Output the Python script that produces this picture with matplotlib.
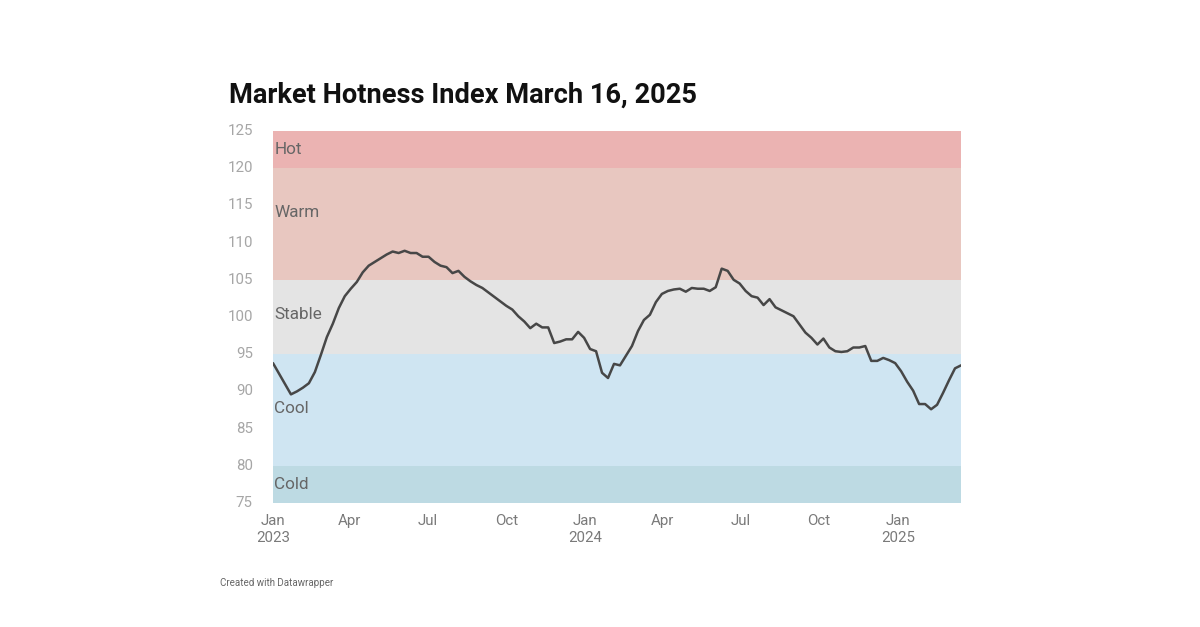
import matplotlib
matplotlib.use("Agg")
import matplotlib.pyplot as plt
import pandas as pd

# ---- data ----
start_date = "2023-01-01"
end_date = "2025-03-16"
index_values = [
    93.8, 92.4, 91.0, 89.6, 90.0, 90.5, 91.1, 92.6, 94.9, 97.3,
    99.1, 101.2, 102.8, 103.8, 104.7, 106.0, 106.9, 107.4, 107.9, 108.4,
    108.8, 108.6, 108.9, 108.6, 108.6, 108.1, 108.1, 107.4, 106.9, 106.7,
    105.9, 106.2, 105.4, 104.8, 104.3, 103.9, 103.3, 102.7, 102.1, 101.5,
    101.0, 100.1, 99.4, 98.5, 99.1, 98.6, 98.6, 96.5, 96.7, 97.0,
    97.0, 98.0, 97.2, 95.7, 95.4, 92.5, 91.8, 93.7, 93.5, 94.8,
    96.1, 98.1, 99.6, 100.3, 102.0, 103.1, 103.5, 103.7, 103.8, 103.4,
    103.9, 103.8, 103.8, 103.5, 104.0, 106.5, 106.2, 105.0, 104.5, 103.5,
    102.8, 102.6, 101.6, 102.4, 101.3, 100.9, 100.5, 100.1, 99.0, 97.9,
    97.2, 96.3, 97.1, 95.9, 95.4, 95.3, 95.4, 95.9, 95.9, 96.1,
    94.1, 94.1, 94.5, 94.2, 93.8, 92.7, 91.3, 90.1, 88.3, 88.3,
    87.6, 88.2, 89.8, 91.5, 93.1, 93.5,
]
band_names = ["Cold", "Cool", "Stable", "Warm", "Hot"]
band_low = [75, 80, 95, 105, 120]
band_high = [80, 95, 105, 120, 125]
band_label_y = [77.5, 87.7, 100.3, 114.0, 122.5]
band_colors = ["#bddae3", "#cfe5f2", "#e4e4e4", "#e8c7c0", "#ebb3b2"]
y_ticks = [75, 80, 85, 90, 95, 100, 105, 110, 115, 120, 125]
x_tick_dates = ["2023-01-01", "2023-04-01", "2023-07-01", "2023-10-01",
                "2024-01-01", "2024-04-01", "2024-07-01", "2024-10-01",
                "2025-01-01"]
x_tick_labels = ["Jan\n2023", "Apr", "Jul", "Oct", "Jan\n2024", "Apr", "Jul",
                 "Oct", "Jan\n2025"]
title = "Market Hotness Index March 16, 2025"
footer = "Created with Datawrapper"

dates = pd.date_range(start_date, end_date, freq="7D")

plt.rcParams["font.family"] = ["Roboto", "DejaVu Sans"]

fig = plt.figure(figsize=(12, 6.27), dpi=100)
ax = fig.add_axes([273 / 1200, 1 - 503 / 627, (961 - 273) / 1200, (503 - 131) / 627])

x0 = pd.Timestamp(start_date)
x1 = pd.Timestamp(end_date)
for name, lo, hi, ly, c in zip(band_names, band_low, band_high, band_label_y, band_colors):
    ax.axhspan(lo, hi, color=c, lw=0, zorder=0)
    ax.text(0.002, ly, name, transform=ax.get_yaxis_transform(), ha="left",
            va="center", fontsize=12.3, color="#666666", zorder=2)

ax.plot(dates, index_values, color="#474747", lw=1.8, zorder=3,
        solid_joinstyle="round", solid_capstyle="round")

ax.set_xlim(x0, x1)
ax.set_ylim(75, 125)
ax.set_yticks(y_ticks)
ax.set_yticklabels([str(v) for v in y_ticks])
ax.set_xticks(pd.to_datetime(x_tick_dates))
ax.set_xticklabels(x_tick_labels, linespacing=1.25)

for s in ax.spines.values():
    s.set_visible(False)
ax.tick_params(axis="y", length=0, pad=14.5, labelsize=10.8, labelcolor="#a6a6a6")
ax.tick_params(axis="x", length=0, pad=8, labelsize=10.8, labelcolor="#7a7a7a")
for t in ax.get_yticklabels():
    t.set_verticalalignment("center")

fig.text(229 / 1200, 1 - 103 / 627, title, fontsize=19.6, fontweight="bold",
         color="#111111", ha="left", va="baseline")
fig.text(220 / 1200, 1 - 583 / 627, footer, fontsize=7, color="#666666",
         ha="left", va="center")

fig.savefig("out.png", dpi=100)
